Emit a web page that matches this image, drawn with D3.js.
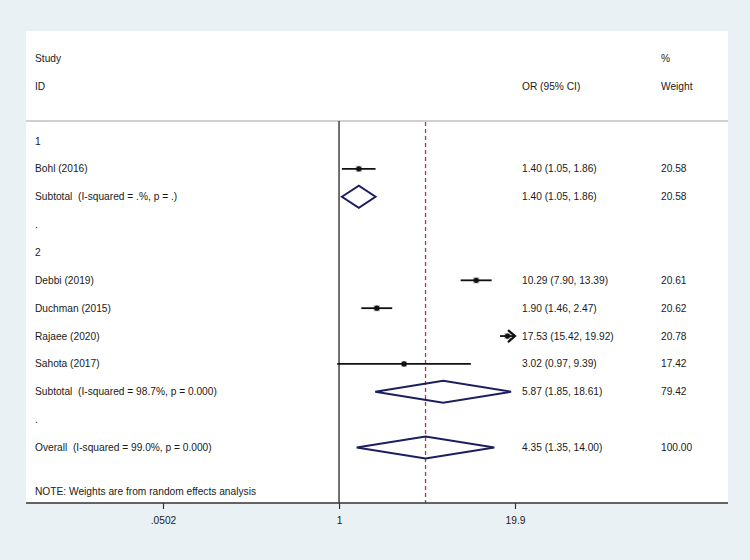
<!DOCTYPE html>
<html>
<head>
<meta charset="utf-8">
<script src="https://cdn.jsdelivr.net/npm/d3@7"></script>
<style>
  html, body { margin: 0; padding: 0; background: #eaf1f4; }
  svg { display: block; }
  text { font-family: "Liberation Sans", Arial, sans-serif; font-size: 10.2px; fill: #1a1a1a; white-space: pre; }
</style>
</head>
<body>
<svg id="chart" width="750" height="560"></svg>
<script>
// forest plot, OR on log axis
const rowLabels = [
  "1", "Bohl (2016)", "Subtotal  (I-squared = .%, p = .)", ".",
  "2", "Debbi (2019)", "Duchman (2015)", "Rajaee (2020)", "Sahota (2017)",
  "Subtotal  (I-squared = 98.7%, p = 0.000)", ".",
  "Overall  (I-squared = 99.0%, p = 0.000)"
];
const rowType = ["group","study","subtotal","blank","group","study","study","study","study","subtotal","blank","overall"];
const orEst  = [null, 1.40, 1.40, null, null, 10.29, 1.90, 17.53, 3.02, 5.87, null, 4.35];
const ciLow  = [null, 1.05, 1.05, null, null, 7.90, 1.46, 15.42, 0.97, 1.85, null, 1.35];
const ciHigh = [null, 1.86, 1.86, null, null, 13.39, 2.47, 19.92, 9.39, 18.61, null, 14.00];
const weights = [null, 20.58, 20.58, null, null, 20.61, 20.62, 20.78, 17.42, 79.42, null, 100.00];
const tickValues = [0.0502, 1, 19.9];
const tickLabels = [".0502", "1", "19.9"];
const overallOR = 4.35;

const svg = d3.select('#chart');
const plotL = 26, plotR = 728, plotT = 31, plotB = 503;

// white plot region
svg.append('rect').attr('x', plotL).attr('y', plotT)
  .attr('width', plotR - plotL).attr('height', plotB - plotT).attr('fill', '#fff');

const x = d3.scaleLog().domain([0.0502, 19.9]).range([163, 515]);
const y = d3.scaleLinear().domain([0, rowLabels.length - 1]).range([141, 447.5]);
const colLabel = 35, colOR = 522, colW = 661;

// header
svg.append('text').attr('x', colLabel).attr('y', 61.5).text('Study');
svg.append('text').attr('x', colLabel).attr('y', 89.5).text('ID');
svg.append('text').attr('x', colOR).attr('y', 89.5).text('OR (95% CI)');
svg.append('text').attr('x', colW).attr('y', 61.5).text('%');
svg.append('text').attr('x', colW).attr('y', 89.5).text('Weight');
svg.append('line').attr('x1', plotL).attr('x2', plotR).attr('y1', 121).attr('y2', 121)
  .attr('stroke', '#a0a0a0').attr('stroke-width', 1);

// null line and overall line
svg.append('line').attr('x1', x(1)).attr('x2', x(1)).attr('y1', 121).attr('y2', plotB)
  .attr('stroke', '#333').attr('stroke-width', 1.4);
svg.append('line').attr('x1', x(overallOR)).attr('x2', x(overallOR)).attr('y1', 122).attr('y2', plotB)
  .attr('stroke', '#a04040').attr('stroke-width', 1.3).attr('stroke-dasharray', '4,3');

// row labels
svg.selectAll('text.lab').data(rowLabels).enter().append('text')
  .attr('class', 'lab').attr('x', colLabel).attr('y', (d, i) => y(i) + 3.5).text(d => d);

const idx = d3.range(rowLabels.length);
const [xmin, xmax] = x.domain();

// study CIs, boxes, dots
const studies = idx.filter(i => rowType[i] === 'study');
studies.forEach(i => {
  const lo = Math.max(ciLow[i], xmin), hi = Math.min(ciHigh[i], xmax);
  const s = Math.sqrt(weights[i]) * 1.4;
  svg.append('rect').attr('x', x(orEst[i]) - s / 2).attr('y', y(i) - s / 2)
    .attr('width', s).attr('height', s).attr('fill', '#c4c4c4');
  svg.append('line').attr('x1', x(lo)).attr('x2', x(hi)).attr('y1', y(i)).attr('y2', y(i))
    .attr('stroke', '#111').attr('stroke-width', 1.8);
  if (ciHigh[i] > xmax) {
    const ax = x(xmax), ay = y(i);
    svg.append('path').attr('d', `M${ax - 7},${ay - 6}L${ax},${ay}L${ax - 7},${ay + 6}`)
      .attr('fill', 'none').attr('stroke', '#111').attr('stroke-width', 2.2);
  }
  svg.append('circle').attr('cx', x(orEst[i])).attr('cy', y(i)).attr('r', 2.6).attr('fill', '#111');
});

// diamonds
const pooled = idx.filter(i => rowType[i] === 'subtotal' || rowType[i] === 'overall');
svg.selectAll('path.dia').data(pooled).enter().append('path').attr('class', 'dia')
  .attr('d', i => `M${x(ciLow[i])},${y(i)}L${x(orEst[i])},${y(i) - 11}L${x(ciHigh[i])},${y(i)}L${x(orEst[i])},${y(i) + 11}Z`)
  .attr('fill', 'none').attr('stroke', '#1c1f5e').attr('stroke-width', 2);

// estimate and weight columns
const withEst = idx.filter(i => orEst[i] !== null);
svg.selectAll('text.or').data(withEst).enter().append('text').attr('class', 'or')
  .attr('x', colOR).attr('y', i => y(i) + 3.5)
  .text(i => `${orEst[i].toFixed(2)} (${ciLow[i].toFixed(2)}, ${ciHigh[i].toFixed(2)})`);
svg.selectAll('text.w').data(withEst).enter().append('text').attr('class', 'w')
  .attr('x', colW).attr('y', i => y(i) + 3.5).text(i => weights[i].toFixed(2));

svg.append('text').attr('x', colLabel).attr('y', 494.5).text('NOTE: Weights are from random effects analysis');

// x axis
const axis = d3.axisBottom(x).tickValues(tickValues).tickFormat((d, i) => tickLabels[i])
  .tickSize(6).tickSizeOuter(0);
const gx = svg.append('g').attr('transform', `translate(0,${plotB})`).call(axis);
gx.select('.domain').remove();
gx.append('line').attr('x1', plotL).attr('x2', plotR).attr('y1', 0).attr('y2', 0)
  .attr('stroke', '#333').attr('stroke-width', 1.4);
gx.selectAll('.tick line').attr('stroke', '#333').attr('stroke-width', 1.2);
gx.selectAll('.tick text').attr('y', 14).attr('fill', '#1a1a1a')
  .style('font-family', '"Liberation Sans", Arial, sans-serif').style('font-size', '10.2px');
</script>
</body>
</html>
